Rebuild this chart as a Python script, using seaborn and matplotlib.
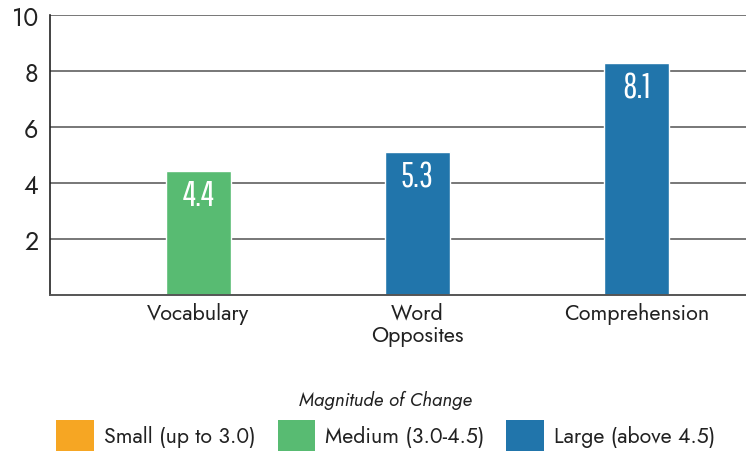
import matplotlib
matplotlib.use("Agg")
import matplotlib.pyplot as plt
from matplotlib.patches import Patch
import seaborn as sns
import pandas as pd

# Data
categories = ["Vocabulary", "Word\nOpposites", "Comprehension"]
bar_heights = [4.42, 5.1, 8.27]          # heights as drawn
bar_labels = ["4.4", "5.3", "8.1"]       # labels printed on the bars
magnitudes = ["Medium", "Large", "Large"]

legend_names = ["Small (up to 3.0)", "Medium (3.0-4.5)", "Large (above 4.5)"]
legend_keys = ["Small", "Medium", "Large"]
legend_colors = ["#F6A623", "#58BB72", "#2175AB"]
y_ticks = [2, 4, 6, 8, 10]

sns.set_style("white")
plt.rcParams["font.family"] = ["Jost", "DejaVu Sans"]
TEXT = "#222222"

color_of = dict(zip(legend_keys, legend_colors))
palette = {c: color_of[m] for c, m in zip(categories, magnitudes)}
df = pd.DataFrame({"category": categories, "value": bar_heights})

fig = plt.figure(figsize=(7.46, 4.52), dpi=100)
ax = fig.add_axes([0.0664, 0.3458, 0.9336, 0.6195])

sns.barplot(data=df, x="category", y="value", hue="category", palette=palette,
            order=categories, width=0.3, saturation=1, legend=False, ax=ax)

# value labels inside the bars
for cont, lab in zip(ax.containers, bar_labels):
    ax.bar_label(cont, labels=[lab], label_type="edge", padding=-29,
                 color="white", fontsize=25,
                 family=["Pathway Gothic One", "DejaVu Sans"])

ax.set_ylim(0, 10)
ax.set_xlim(-0.68, 2.5)
ax.set_yticks(y_ticks)
ax.set_yticklabels([str(t) for t in y_ticks], fontsize=18, color=TEXT)
ax.tick_params(axis="both", length=0)
ax.tick_params(axis="y", pad=8)
ax.tick_params(axis="x", labelsize=15.5, colors=TEXT, pad=5)
for t in ax.get_xticklabels():
    t.set_linespacing(1.05)
ax.set_xlabel("")
ax.set_ylabel("")

ax.yaxis.grid(True, color="#777777", linewidth=1.4)
ax.set_axisbelow(True)
for side in ["top", "right"]:
    ax.spines[side].set_visible(False)
ax.spines["left"].set_color(TEXT)
ax.spines["left"].set_linewidth(1.2)
ax.spines["bottom"].set_color("#555555")
ax.spines["bottom"].set_linewidth(1.4)

handles = [Patch(facecolor=c, edgecolor="none") for c in legend_colors]
leg = fig.legend(handles, legend_names, loc="lower center", ncol=3,
                 bbox_to_anchor=(0.517, 0.0), frameon=False, fontsize=15.3,
                 title="Magnitude of Change", handlelength=1.75, handleheight=1.87,
                 handletextpad=0.47, columnspacing=1.05, borderpad=0,
                 borderaxespad=0)
leg.get_title().set_fontstyle("italic")
leg.get_title().set_fontsize(13.6)
leg.get_title().set_color(TEXT)
for t in leg.get_texts():
    t.set_color(TEXT)

fig.savefig("out.png", dpi=100)
